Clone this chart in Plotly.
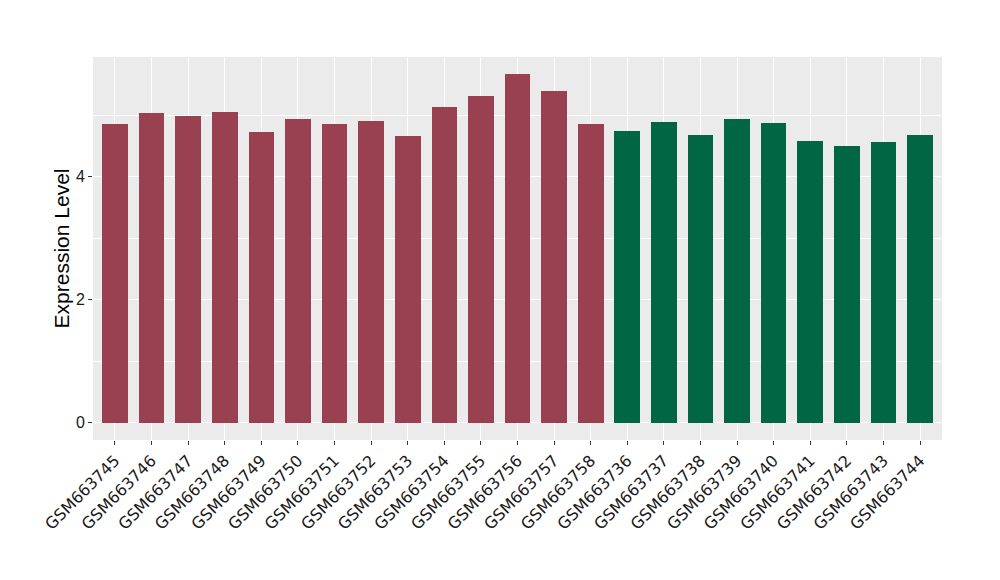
import plotly.graph_objects as go

samples = ["GSM663745","GSM663746","GSM663747","GSM663748","GSM663749","GSM663750","GSM663751",
           "GSM663752","GSM663753","GSM663754","GSM663755","GSM663756","GSM663757","GSM663758",
           "GSM663736","GSM663737","GSM663738","GSM663739","GSM663740","GSM663741","GSM663742",
           "GSM663743","GSM663744"]
values = [4.855, 5.033, 4.984, 5.05, 4.726, 4.936, 4.855, 4.90, 4.66, 5.13, 5.31, 5.665, 5.39, 4.855,
          4.74, 4.89, 4.68, 4.936, 4.87, 4.58, 4.50, 4.56, 4.68]
groups = ["A"] * 14 + ["B"] * 9
group_colors = {"A": "#994150", "B": "#006644"}
colors = [group_colors[g] for g in groups]

fig = go.Figure(go.Bar(x=samples, y=values, marker=dict(color=colors, line=dict(width=0)),
                       width=0.7, showlegend=False))

fig.update_layout(
    width=992, height=572,
    margin=dict(l=85, r=58, t=49, b=140, autoexpand=False),
    paper_bgcolor="white", plot_bgcolor="#EBEBEB",
    font=dict(family="Liberation Sans, Arial, sans-serif", size=15, color="#1a1a1a"),
    xaxis=dict(range=[-0.6, len(samples) - 0.4], tickangle=-45, showgrid=True, gridcolor="white",
               gridwidth=1.2, ticks="outside", ticklen=4, tickcolor="#333333",
               tickfont=dict(family="DejaVu Sans, sans-serif", size=16, color="#1a1a1a"),
               zeroline=False, automargin=False),
    yaxis=dict(range=[-0.282, 5.946], tickvals=[0, 2, 4], showgrid=True, gridcolor="white",
               gridwidth=1.2, ticks="outside", ticklen=4, tickcolor="#333333",
               tickfont=dict(size=16, color="#1a1a1a"), zeroline=False, automargin=False,
               minor=dict(tickvals=[1, 3, 5], showgrid=True, gridcolor="white", gridwidth=0.6, ticklen=0),
               title=dict(text="Expression Level", font=dict(size=21, color="black"), standoff=0)),
    bargap=0,
)

fig.write_html("out.html")
